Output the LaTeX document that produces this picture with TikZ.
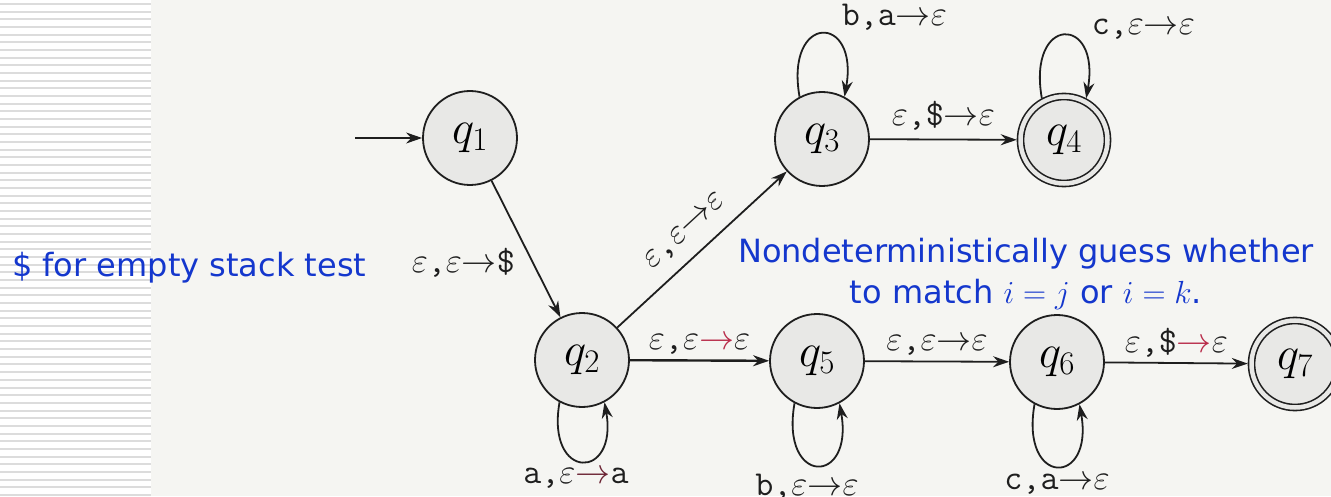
\documentclass[tikz,border=0pt]{standalone}
\usepackage{fix-cm}
\usepackage{amsmath,amssymb}
\usepackage{fontspec}
\usepackage{tikz}
\usetikzlibrary{arrows.meta,positioning}
\newfontfamily\notefont{DejaVu Sans}
\definecolor{scanbg}{RGB}{245,245,242}
\definecolor{statefill}{RGB}{232,232,230}
\definecolor{inkgray}{RGB}{30,30,30}
\definecolor{noteblue}{RGB}{20,55,205}
\definecolor{stripegray}{RGB}{220,220,220}
\definecolor{scanred}{RGB}{185,45,75}
\newcommand{\eps}{\ensuremath{\varepsilon}}
\newcommand{\tto}{\ensuremath{\rightarrow}}
\newcommand{\rto}{\textcolor{scanred}{\ensuremath{\rightarrow}}}

\begin{document}
\begin{tikzpicture}[x=1pt, y=1pt,
    state/.style={circle, draw=inkgray, line width=1.8pt, fill=statefill, minimum size=94pt, inner sep=0pt, font=\fontsize{47}{50}\selectfont},
    accept/.style={state, line width=1.6pt, minimum size=87pt, double=statefill, double distance=4.5pt, outer sep=3.75pt},
    trans/.style={-{Stealth[length=16pt,width=11pt]}, line width=1.8pt, draw=inkgray},
    lab/.style={font=\fontsize{35}{38}\selectfont, text=inkgray, inner sep=5pt},
    note/.style={font=\notefont\fontsize{32}{41}\selectfont, text=noteblue, inner sep=0pt}]
            % Page and striped margin
            \useasboundingbox (0,0) rectangle (1331,496);
            \clip (0,0) rectangle (1331,496);
            \fill[scanbg] (0,0) rectangle (1331,496);
            \fill[white] (0,0) rectangle (151,496);
            \foreach \k in {0,...,64}
                \draw[stripegray, line width=2pt] (0,{492-7.67*\k}) -- (151,{492-7.67*\k});

            % States
            \node[state] (q1) at (470,358) {$q_1$};
            \node[state] (q2) at (582,136) {$q_2$};
            \node[state] (q3) at (822,357) {$q_3$};
            \node[accept] (q4) at (1064,356) {$q_4$};
            \node[state] (q5) at (817,135) {$q_5$};
            \node[state] (q6) at (1057,134) {$q_6$};
            \node[accept] (q7) at (1295,132) {$q_7$};

            % Start arrow
            \coordinate (start) at (355,358);
            \draw[trans] (start) -- (q1);

            % Transitions
            \draw[trans] (q1) -- node[lab, left, pos=0.6, xshift=-12pt] {\eps\texttt{,}\eps\tto\texttt{\$}} (q2);
            \draw[trans] (q2) -- node[lab, sloped, above, inner sep=13pt] {\eps\texttt{,}\eps\tto\eps} (q3);
            \draw[trans] (q3) -- node[lab, above, inner sep=8pt] {\eps\texttt{,\$}\tto\eps} (q4);
            \draw[trans, line width=2.4pt] (q2) -- node[lab, above] {\eps\texttt{,}\eps\rto\eps} (q5);
            \draw[trans] (q5) -- node[lab, above] {\eps\texttt{,}\eps\tto\eps} (q6);
            \draw[trans] (q6) -- node[lab, above] {\eps\texttt{,\$}\rto\eps} (q7);

            % Self loops
            \draw[trans] (q3.118) .. controls +(100:85) and +(80:85) .. node[lab, anchor=south west, xshift=14pt, yshift=-2pt] {\texttt{b,a}\tto\eps} (q3.62);
            \draw[trans] (q4.118) .. controls +(100:85) and +(80:85) .. node[lab, anchor=south west, xshift=22pt, yshift=-10pt] {\texttt{c,}\eps\tto\eps} (q4.62);
            \draw[trans] (q2.242) .. controls +(260:80) and +(280:80) .. node[lab, below, xshift=-6pt, yshift=-1pt] {\texttt{a,}\eps\textcolor{scanred!50!inkgray}{\tto}\texttt{a}} (q2.298);
            \draw[trans] (q5.242) .. controls +(260:84) and +(280:84) .. node[lab, below, xshift=-10pt, yshift=-3pt] {\texttt{b,}\eps\tto\eps} (q5.298);
            \draw[trans] (q6.242) .. controls +(260:84) and +(280:84) .. node[lab, below, yshift=-2pt] {\texttt{c,a}\tto\eps} (q6.298);

            % Notes
            \node[note, anchor=base west] (stacknote) at (12,219) {\$ for empty stack test};
            \node[note, align=center] (guessnote) at (1026,222) {Nondeterministically guess whether\\to match $i = j$ or $i = k$.};
        \end{tikzpicture}
\end{document}
